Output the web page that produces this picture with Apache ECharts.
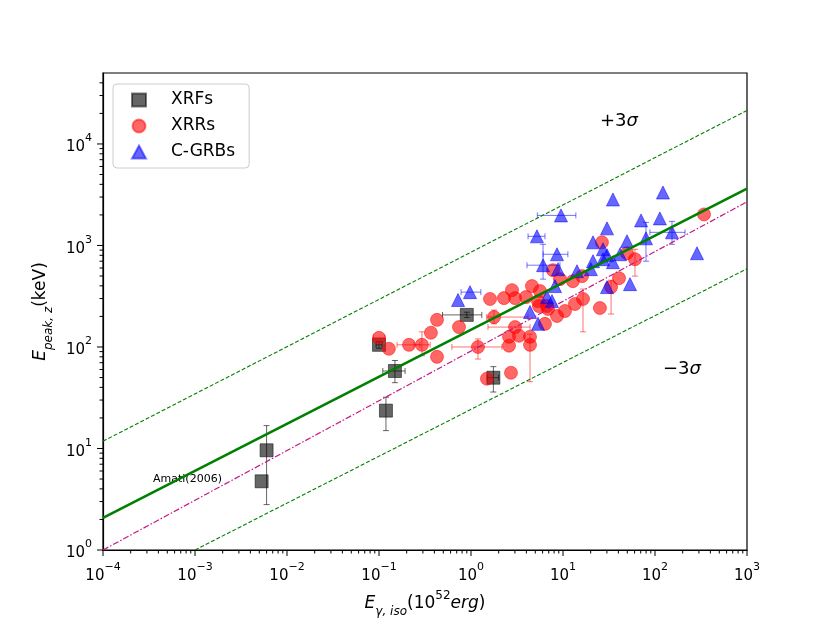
<!DOCTYPE html>
<html>
<head>
<meta charset="utf-8">
<script src="https://cdn.jsdelivr.net/npm/echarts@6/dist/echarts.min.js"></script>
<style>
  html, body { margin: 0; padding: 0; background: #fff; }
  #main { width: 830px; height: 623px; }
</style>
</head>
<body>
<div id="main"></div>
<script>
// each row: [E_iso (1e52 erg), Ep (keV), xlo, xhi, ylo, yhi]  (null = no error bar)
var xrfs = [
    [0.0053, 4.75, null, null, null, null],
    [0.0060, 9.6, null, null, 2.8, 16.8],
    [0.100, 105, 0.093, 0.108, 97, 113],
    [0.149, 58, 0.110, 0.192, 44.5, 73.6],
    [0.119, 23.6, null, null, 15, 32],
    [0.90, 207, 0.49, 1.31, 195, 220],
    [1.75, 49.8, 1.5, 2.0, 36, 64]
];
var xrrs = [
    [0.100, 123, 0.087, 0.116, null, null],
    [0.128, 96, null, null, null, null],
    [0.212, 105, 0.157, 0.279, null, null],
    [0.293, 105, 0.24, 0.36, 82, 141],
    [0.427, 80, null, null, null, null],
    [0.367, 138, null, null, null, null],
    [0.427, 185, null, null, null, null],
    [0.741, 157, null, null, null, null],
    [1.19, 100, 0.62, 2.17, 76, 120],
    [1.49, 48.7, null, null, null, null],
    [2.72, 55.7, null, null, null, null],
    [1.78, 197, 1.48, 4.17, 169, 231],
    [1.61, 297, null, null, null, null],
    [2.28, 303, null, null, null, null],
    [2.79, 363, null, null, null, null],
    [3.01, 303, null, null, null, null],
    [3.96, 310, null, null, null, null],
    [4.60, 398, null, null, null, null],
    [5.62, 355, null, null, null, null],
    [5.35, 283, null, null, null, null],
    [5.48, 253, null, null, null, null],
    [7.78, 571, null, null, null, null],
    [9.27, 466, null, null, null, null],
    [12.8, 445, null, null, null, null],
    [16.1, 499, null, null, null, null],
    [13.5, 265, null, null, null, null],
    [10.5, 226, null, null, null, null],
    [8.61, 202, null, null, null, null],
    [6.70, 253, null, null, null, null],
    [16.5, 297, null, null, 141, 372],
    [25.2, 242, null, null, null, null],
    [33.3, 389, null, null, 211, 455],
    [40.6, 476, null, null, null, null],
    [49.6, 838, null, null, null, null],
    [60.6, 732, null, null, 499, 917],
    [26.5, 1075, null, null, null, null],
    [341, 2023, null, null, null, null],
    [3.01, 157, 1.53, 4.38, null, null],
    [2.59, 126, null, null, null, null],
    [3.32, 129, null, null, null, null],
    [4.38, 126, null, null, null, null],
    [2.59, 103, null, null, null, null],
    [4.38, 105, null, null, 45.5, 134],
    [6.37, 169, null, null, null, null],
    [6.87, 237, null, null, null, null]
];
var cgrbs = [
    [0.723, 290, null, null, null, null],
    [0.975, 347, 0.78, 1.28, null, null],
    [9.51, 1977, 5.26, 13.8, null, null],
    [5.21, 1231, 4.17, 6.37, null, null],
    [8.61, 819, 6.07, 11.3, null, null],
    [6.07, 639, 4.06, 9.27, 466, 1027],
    [8.83, 584, null, null, null, null],
    [14.2, 558, null, null, null, null],
    [8.18, 398, null, null, null, null],
    [6.70, 310, null, null, null, null],
    [7.59, 283, null, null, null, null],
    [4.38, 221, null, null, null, null],
    [5.35, 169, null, null, null, null],
    [30.1, 1474, null, null, null, null],
    [34.9, 2838, null, null, null, null],
    [21.2, 1075, null, null, null, null],
    [27.2, 918, null, null, null, null],
    [21.2, 700, null, null, null, null],
    [27.2, 732, null, null, null, null],
    [30.1, 801, null, null, null, null],
    [34.9, 684, null, null, null, null],
    [41.7, 819, null, null, null, null],
    [49.6, 1099, null, null, null, null],
    [70.5, 1766, null, null, null, null],
    [79.8, 1176, null, null, 700, 1688],
    [113, 1848, null, null, null, null],
    [122, 3324, null, null, null, null],
    [153, 1347, 88, 212, 1027, 1727],
    [286, 838, null, null, null, null],
    [20.1, 584, null, null, null, null],
    [30.1, 389, null, null, null, null],
    [53.5, 416, null, null, null, null]
];
// correlation lines (two end points each)
var fitLine = [[1e-4, 2.07], [1e3, 3630]];
var upperLine = [[1e-4, 11.8], [1e3, 21400]];
var lowerLine = [[1e-3, 1], [1e3, 590]];
var amatiLine = [[1e-4, 1], [1e3, 2690]];
// axis ticks
var xMajor = [1e-4, 1e-3, 1e-2, 1e-1, 1, 10, 100, 1000];
var yMajor = [1, 10, 100, 1000, 10000];
var minorSteps = [2, 3, 4, 5, 6, 7, 8, 9];
var xMin = 1e-4, xMax = 1e3, yMin = 1, yMax = 5e4;

var FONT = 'DejaVu Sans';

function minorOf(major, lo, hi) {
    var out = [];
    major.forEach(function (m) {
        minorSteps.forEach(function (s) {
            var v = m * s;
            if (v > lo && v < hi) out.push(v);
        });
    });
    return out;
}
var xMinor = minorOf(xMajor, xMin, xMax);
var yMinor = minorOf(yMajor, yMin, yMax);

function powLabel(v) {
    var e = Math.round(Math.log(v) / Math.LN10);
    if (Math.abs(Math.pow(10, e) - v) / v > 1e-6) return '';
    return '{b|10}{s|' + String(e).replace('-', '\u2212') + '}';
}
var powRich = {
    b: { fontFamily: FONT, fontSize: 15, color: '#000', lineHeight: 22, verticalAlign: 'bottom' },
    s: { fontFamily: FONT, fontSize: 11, color: '#000', lineHeight: 22, verticalAlign: 'top' }
};

function errData(rows) {
    return rows.map(function (r) {
        return r.map(function (v) { return v == null ? 0 : v; });
    });
}
function errRender(color) {
    return function (params, api) {
        var x = api.value(0), y = api.value(1);
        var xlo = api.value(2), xhi = api.value(3), ylo = api.value(4), yhi = api.value(5);
        var kids = [];
        var st = { stroke: color, lineWidth: 1 };
        var cap = 3;
        if (xlo > 0 && xhi > 0) {
            var a = api.coord([xlo, y]), b = api.coord([xhi, y]);
            kids.push({ type: 'line', shape: { x1: a[0], y1: a[1], x2: b[0], y2: b[1] }, style: st });
            kids.push({ type: 'line', shape: { x1: a[0], y1: a[1] - cap, x2: a[0], y2: a[1] + cap }, style: st });
            kids.push({ type: 'line', shape: { x1: b[0], y1: b[1] - cap, x2: b[0], y2: b[1] + cap }, style: st });
        }
        if (ylo > 0 && yhi > 0) {
            var c = api.coord([x, ylo]), d = api.coord([x, yhi]);
            kids.push({ type: 'line', shape: { x1: c[0], y1: c[1], x2: d[0], y2: d[1] }, style: st });
            kids.push({ type: 'line', shape: { x1: c[0] - cap, y1: c[1], x2: c[0] + cap, y2: c[1] }, style: st });
            kids.push({ type: 'line', shape: { x1: d[0] - cap, y1: d[1], x2: d[0] + cap, y2: d[1] }, style: st });
        }
        return { type: 'group', children: kids };
    };
}
function tickRender(isX) {
    return function (params, api) {
        var v = api.value(isX ? 0 : 1), len = api.value(2);
        var cs = params.coordSys;
        var st = { stroke: '#000', lineWidth: 1 };
        if (isX) {
            var px = api.coord([v, yMin])[0], by = cs.y + cs.height;
            return { type: 'line', shape: { x1: px, y1: by, x2: px, y2: by + len }, style: st };
        }
        var py = api.coord([xMin, v])[1], lx = cs.x;
        return { type: 'line', shape: { x1: lx, y1: py, x2: lx - len, y2: py }, style: st };
    };
}
var xTickData = xMajor.map(function (v) { return [v, yMin, 6]; })
    .concat(xMinor.map(function (v) { return [v, yMin, 3.5]; }));
var yTickData = yMajor.map(function (v) { return [xMin, v, 6]; })
    .concat(yMinor.map(function (v) { return [xMin, v, 3.5]; }));

var titleRich = {
    i: { fontFamily: FONT, fontSize: 17, fontStyle: 'italic', color: '#000', lineHeight: 28, verticalAlign: 'middle' },
    n: { fontFamily: FONT, fontSize: 17, color: '#000', lineHeight: 28, verticalAlign: 'middle' },
    sub: { fontFamily: FONT, fontSize: 12, fontStyle: 'italic', color: '#000', lineHeight: 28, verticalAlign: 'bottom' },
    sup: { fontFamily: FONT, fontSize: 12, color: '#000', lineHeight: 28, verticalAlign: 'top' }
};
var sigmaRich = {
    n: { fontFamily: FONT, fontSize: 18, fill: '#000' },
    i: { fontFamily: FONT, fontSize: 18, fontStyle: 'italic', fill: '#000' }
};

var myChart = echarts.init(document.getElementById('main'));

var option = {
    backgroundColor: '#fff',
    animation: false,
    textStyle: { fontFamily: FONT },
    grid: { left: 103, right: 83, top: 73, bottom: 71, show: true, borderColor: '#000', borderWidth: 1.2, backgroundColor: 'transparent' },
    legend: {
        left: 113, top: 84,
        orient: 'vertical',
        data: ['XRFs', 'XRRs', 'C-GRBs'],
        itemWidth: 14, itemHeight: 13, itemGap: 6,
        padding: [6, 14, 6, 18],
        borderColor: '#cccccc', borderWidth: 1, borderRadius: 4,
        backgroundColor: 'rgba(255,255,255,0.8)',
        textStyle: { fontFamily: FONT, fontSize: 17, color: '#000', padding: [0, 0, 0, 20], lineHeight: 20 }
    },
    xAxis: {
        type: 'log', logBase: 10, min: xMin, max: xMax,
        name: '{i|E}{sub|\u03b3, iso}{n|(10}{sup|52}{i|erg}{n|)}',
        nameLocation: 'middle', nameGap: 40,
        nameTextStyle: { rich: titleRich },
        axisLine: { show: true, lineStyle: { color: '#000', width: 1.2 } },
        axisTick: { show: false },
        splitLine: { show: false },
        axisLabel: { margin: 12, formatter: powLabel, rich: powRich, showMinLabel: true, showMaxLabel: true }
    },
    yAxis: {
        type: 'log', logBase: 10, min: yMin, max: yMax,
        name: '{i|E}{sub|peak, z}{n|(keV)}',
        nameLocation: 'middle', nameGap: 44, nameRotate: 90,
        nameTextStyle: { rich: titleRich },
        axisLine: { show: true, lineStyle: { color: '#000', width: 1.2 } },
        axisTick: { show: false },
        splitLine: { show: false },
        axisLabel: { margin: 11, formatter: powLabel, rich: powRich }
    },
    graphic: [
        { type: 'text', left: 600, top: 112, style: { rich: sigmaRich, text: '{n|+3}{i|\u03c3}' } },
        { type: 'text', left: 663, top: 360, style: { rich: sigmaRich, text: '{n|\u22123}{i|\u03c3}' } },
        { type: 'text', left: 153, top: 474, style: { text: 'Amati(2006)', fontFamily: FONT, fontSize: 11, fill: '#000' } }
    ],
    series: [
        { type: 'custom', name: 'xticks', renderItem: tickRender(true), data: xTickData, silent: true, z: 1 },
        { type: 'custom', name: 'yticks', renderItem: tickRender(false), data: yTickData, silent: true, z: 1 },
        { type: 'custom', name: 'XRFs err', renderItem: errRender('rgba(0,0,0,0.6)'), data: errData(xrfs), z: 2 },
        {
            type: 'scatter', name: 'XRFs', symbol: 'rect', symbolSize: 13,
            data: xrfs.map(function (r) { return [r[0], r[1]]; }),
            itemStyle: { color: 'rgba(0,0,0,0.6)', borderColor: 'rgba(0,0,0,0.5)', borderWidth: 1, opacity: 1 },
            z: 3
        },
        { type: 'custom', name: 'XRRs err', renderItem: errRender('rgba(255,0,0,0.55)'), data: errData(xrrs), z: 4 },
        {
            type: 'scatter', name: 'XRRs', symbol: 'circle', symbolSize: 13,
            data: xrrs.map(function (r) { return [r[0], r[1]]; }),
            itemStyle: { color: 'rgba(255,0,0,0.6)', borderColor: 'rgba(255,0,0,0.5)', borderWidth: 1, opacity: 1 },
            z: 5
        },
        { type: 'custom', name: 'C-GRBs err', renderItem: errRender('rgba(0,0,255,0.55)'), data: errData(cgrbs), z: 6 },
        {
            type: 'scatter', name: 'C-GRBs', symbol: 'triangle', symbolSize: 13,
            data: cgrbs.map(function (r) { return [r[0], r[1]]; }),
            itemStyle: { color: 'rgba(0,0,255,0.6)', borderColor: 'rgba(0,0,255,0.5)', borderWidth: 1, opacity: 1 },
            z: 7
        },
        { type: 'line', name: 'fit', data: fitLine, symbol: 'none', lineStyle: { color: '#008000', width: 2.6 }, z: 8, silent: true },
        { type: 'line', name: '+3s', data: upperLine, symbol: 'none', lineStyle: { color: '#008000', width: 1.1, type: [4, 2] }, z: 8, silent: true },
        { type: 'line', name: '-3s', data: lowerLine, symbol: 'none', lineStyle: { color: '#008000', width: 1.1, type: [4, 2] }, z: 8, silent: true },
        { type: 'line', name: 'Amati', data: amatiLine, symbol: 'none', lineStyle: { color: '#c71585', width: 1.2, type: [6, 2, 1.5, 2] }, z: 8, silent: true }
    ]
};
myChart.setOption(option);
</script>
</body>
</html>
